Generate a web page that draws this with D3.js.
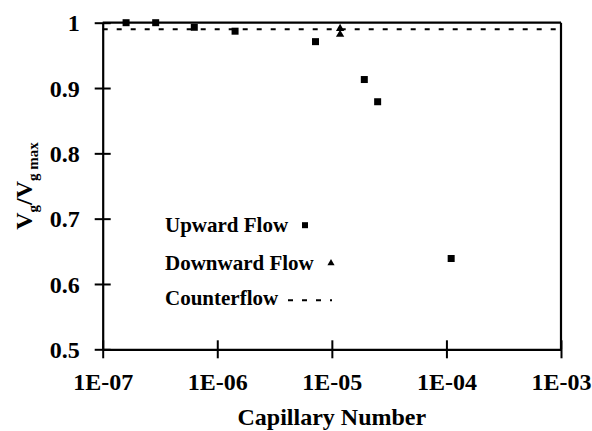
<!DOCTYPE html>
<html>
<head>
<meta charset="utf-8">
<script src="https://cdn.jsdelivr.net/npm/d3@7"></script>
<style>
html,body{margin:0;padding:0;background:#fff;}
svg{display:block;}
</style>
</head>
<body>
<svg id="chart" width="592" height="431"></svg>
<script>
// Data
const upwardCa = [1.6e-7, 2.9e-7, 6.3e-7, 1.43e-6, 7.2e-6, 1.92e-5, 2.51e-5, 1.1e-4];
const upwardV  = [1.0, 1.0, 0.993, 0.987, 0.971, 0.913, 0.879, 0.639];
const downwardCa = [1.18e-5, 1.18e-5];
const downwardV  = [0.991, 0.982];
const counterflowV = 0.99;
const xTickValues = [1e-7, 1e-6, 1e-5, 1e-4, 1e-3];
const xTickLabels = ["1E-07", "1E-06", "1E-05", "1E-04", "1E-03"];
const yTickValues = [0.5, 0.6, 0.7, 0.8, 0.9, 1];
const yTickLabels = ["0.5", "0.6", "0.7", "0.8", "0.9", "1"];
const legendLabels = ["Upward Flow", "Downward Flow", "Counterflow"];

const FONT = '"Liberation Serif"';
const svg = d3.select("#chart");
const pL = 102.7, pR = 561, pT = 22.7, pB = 349.3;
const x = d3.scaleLog().domain([1e-7, 1e-3]).range([pL, pR]);
const y = d3.scaleLinear().domain([0.5, 1]).range([pB, pT]);

// Frame: top and right
svg.append("line").attr("x1", pL).attr("x2", pR).attr("y1", pT).attr("y2", pT)
  .attr("stroke", "#000").attr("stroke-width", 2.2);
svg.append("line").attr("x1", pR).attr("x2", pR).attr("y1", pT).attr("y2", pB)
  .attr("stroke", "#000").attr("stroke-width", 2.2);

// X axis
const xAxis = d3.axisBottom(x).tickValues(xTickValues)
  .tickFormat((d, i) => xTickLabels[i]).tickSizeOuter(0).tickPadding(35);
const gx = svg.append("g").attr("transform", `translate(0,${pB})`).call(xAxis);
gx.select(".domain").attr("stroke", "#000").attr("stroke-width", 2.2);
gx.selectAll(".tick line").attr("y1", -9).attr("y2", 9).attr("stroke", "#000").attr("stroke-width", 2);
gx.selectAll(".tick text").attr("font-size", 24).attr("dy", "0");

// Y axis
const yAxis = d3.axisLeft(y).tickValues(yTickValues)
  .tickFormat((d, i) => yTickLabels[i]).tickSizeOuter(0).tickPadding(17);
const gy = svg.append("g").attr("transform", `translate(${pL},0)`).call(yAxis);
gy.select(".domain").attr("stroke", "#000").attr("stroke-width", 2.2);
gy.selectAll(".tick line").attr("x1", -8).attr("x2", 8).attr("stroke", "#000").attr("stroke-width", 2);
gy.selectAll(".tick text").attr("font-size", 24).attr("dy", "0.34em");

// Counterflow dashed line
svg.append("line").attr("x1", x(1e-7)).attr("x2", x(1e-3))
  .attr("y1", y(counterflowV)).attr("y2", y(counterflowV))
  .attr("stroke", "#000").attr("stroke-width", 2).attr("stroke-dasharray", "5,9");

// Upward flow squares
const sq = 7;
svg.selectAll("rect.up").data(upwardCa).enter().append("rect").attr("class", "up")
  .attr("x", (d) => x(d) - sq / 2).attr("y", (d, i) => y(upwardV[i]) - sq / 2)
  .attr("width", sq).attr("height", sq).attr("fill", "#000");

// Downward flow triangles
const tri = d3.symbol().type(d3.symbolTriangle).size(30);
svg.selectAll("path.down").data(downwardCa).enter().append("path").attr("class", "down")
  .attr("d", tri).attr("fill", "#000")
  .attr("transform", (d, i) => `translate(${x(d)},${y(downwardV[i])})`);

// Legend
const legY = [y(0.69), y(0.632), y(0.578)];
svg.selectAll("text.leg").data(legendLabels).enter().append("text").attr("class", "leg")
  .attr("x", 165).attr("y", (d, i) => legY[i]).attr("dy", "0.34em")
  .attr("font-size", 21).text((d) => d);
svg.append("rect").attr("x", 305 - 3).attr("y", legY[0] - 3).attr("width", 6).attr("height", 6).attr("fill", "#000");
svg.append("path").attr("d", d3.symbol().type(d3.symbolTriangle).size(22)).attr("fill", "#000")
  .attr("transform", `translate(331,${legY[1]})`);
svg.append("line").attr("x1", 288).attr("x2", 332).attr("y1", legY[2] + 2).attr("y2", legY[2] + 2)
  .attr("stroke", "#000").attr("stroke-width", 2).attr("stroke-dasharray", "5,9");

// Axis titles
svg.append("text").attr("x", (pL + pR) / 2).attr("y", 425).attr("text-anchor", "middle")
  .attr("font-size", 24).text("Capillary Number");
const yt = svg.append("text").attr("transform", `translate(32,${(pT + pB) / 2}) rotate(-90)`)
  .attr("text-anchor", "middle").attr("font-size", 24);
yt.append("tspan").text("V");
yt.append("tspan").attr("font-size", 15).attr("dy", 6).text("g");
yt.append("tspan").attr("dy", -6).text("/V");
yt.append("tspan").attr("font-size", 15).attr("dy", 6).text("g max");

svg.selectAll("g").attr("font-family", null);
svg.selectAll("text").style("font-family", FONT).style("font-weight", "bold").attr("fill", "#000");
</script>
</body>
</html>
